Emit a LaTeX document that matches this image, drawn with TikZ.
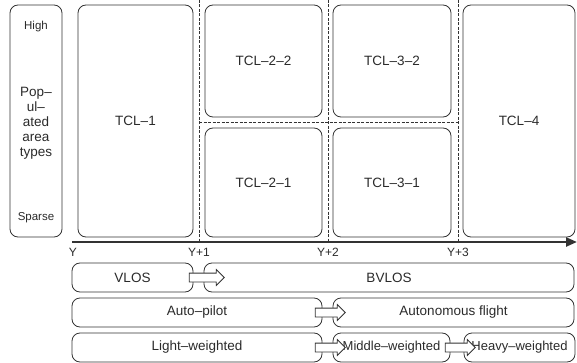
\documentclass[tikz,border=0pt]{standalone}
\usepackage{fontspec}
\setmainfont{Liberation Sans}
\usetikzlibrary{arrows.meta,shapes.arrows}
\definecolor{linec}{HTML}{333333}
\definecolor{txtc}{HTML}{2A2A2A}
\begin{document}
\begin{tikzpicture}[x=1pt,y=-1pt,
  box/.style={draw=linec, line width=0.8pt, rounded corners=8pt, inner sep=0pt, text=txtc, font=\fontsize{13.5}{15}\selectfont, align=center},
  rowbox/.style={box, minimum height=29pt},
  small/.style={text=txtc, font=\fontsize{11.5}{13}\selectfont, inner sep=0pt},
  divider/.style={draw=linec, line width=0.6pt, dash pattern=on 3pt off 1.5pt},
  barrow/.style={draw=linec, fill=white, line width=0.8pt, single arrow, text height=4pt, text depth=4pt, text width=0pt, single arrow head extend=3.5pt, single arrow head indent=0pt, inner sep=0pt}]
\useasboundingbox (0,0) rectangle (577,363);

% left label box
\node[box, minimum width=52pt, minimum height=232pt] (pop) at (36,121) {};
\node[small] (high) at (36,27) {High};
\node[text=txtc, font=\fontsize{13.5}{15}\selectfont, align=center, inner sep=0pt] (popt) at (36,123) {Pop–\\ul–\\ated\\area\\types};
\node[small] (sparse) at (36,218) {Sparse};

% TCL boxes
\node[box, minimum width=115pt, minimum height=232pt] (tcl1) at (135.5,121) {TCL–1};
\node[box, minimum width=117pt, minimum height=112pt] (tcl22) at (263.5,61) {TCL–2–2};
\node[box, minimum width=117pt, minimum height=109pt] (tcl21) at (263.5,182.5) {TCL–2–1};
\node[box, minimum width=118pt, minimum height=112pt] (tcl32) at (392,61) {TCL–3–2};
\node[box, minimum width=118pt, minimum height=109pt] (tcl31) at (392,182.5) {TCL–3–1};
\node[box, minimum width=112pt, minimum height=232pt] (tcl4) at (519,121) {TCL–4};

% dividers
\coordinate (d1t) at (199,0); \coordinate (d1b) at (199,242);
\coordinate (d2t) at (328,0); \coordinate (d2b) at (328,242);
\coordinate (d3t) at (458,0); \coordinate (d3b) at (458,242);
\coordinate (hl) at (199,122); \coordinate (hr) at (458,122);
\draw[divider] (d1t) -- (d1b);
\draw[divider] (d2t) -- (d2b);
\draw[divider] (d3t) -- (d3b);
\draw[divider] (hl) -- (hr);

% axis
\coordinate (ax0) at (72,242); \coordinate (ax1) at (577,242);
\draw[draw=linec, line width=2.4pt, -{Triangle[length=11pt,width=9pt]}] (ax0) -- (ax1);
\node[small, font=\fontsize{12}{13}\selectfont] (y0) at (73,252) {Y};
\node[small, font=\fontsize{12}{13}\selectfont] (y1) at (199,252) {Y+1};
\node[small, font=\fontsize{12}{13}\selectfont] (y2) at (328,252) {Y+2};
\node[small, font=\fontsize{12}{13}\selectfont] (y3) at (458,252) {Y+3};

% rows
\node[rowbox, minimum width=121pt] (vlos) at (132.5,277.5) {VLOS};
\node[rowbox, minimum width=370pt] (bvlos) at (389,277.5) {BVLOS};
\node[rowbox, minimum width=250pt] (auto) at (197,312.5) {Auto–pilot};
\node[rowbox, minimum width=241pt] (autonom) at (453.5,312.5) {Autonomous flight};
\node[rowbox, minimum width=250pt] (light) at (197,347.5) {Light–weighted};
\node[rowbox, minimum width=117pt, font=\fontsize{13}{15}\selectfont] (middle) at (391.5,347.5) {Middle–weighted};
\node[rowbox, minimum width=111pt, font=\fontsize{13}{15}\selectfont] (heavy) at (519.5,347.5) {Heavy–weighted};

% block arrows
\node[barrow, minimum height=35pt] (a1) at (204.5,277.5) {};
\node[barrow, minimum height=30pt] (a2) at (328,312.5) {};
\node[barrow, minimum height=30pt] (a3) at (328,347.5) {};
\node[barrow, minimum height=30pt] (a4) at (458,347.5) {};
\end{tikzpicture}
\end{document}
